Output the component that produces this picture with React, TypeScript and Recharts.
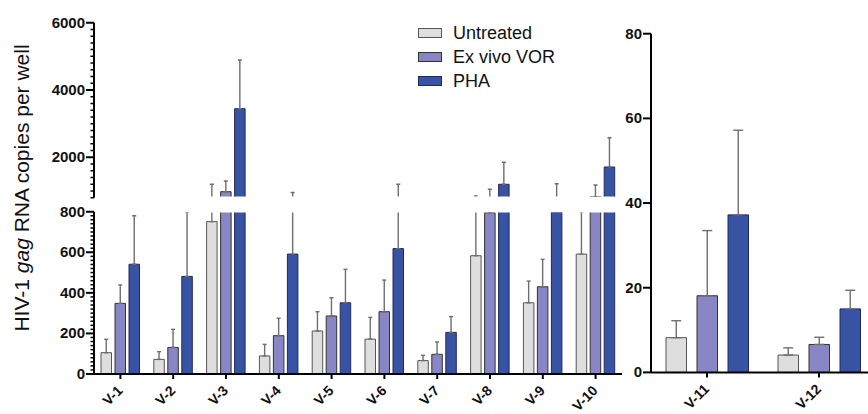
import React from "react";
import { BarChart, Bar, XAxis, YAxis, ErrorBar, Legend } from "recharts";

const leftCategories = ["V-1", "V-2", "V-3", "V-4", "V-5", "V-6", "V-7", "V-8", "V-9", "V-10"];
const rightCategories = ["V-11", "V-12"];

const untreatedLeft = [105, 72, 751, 89, 212, 172, 66, 583, 351, 591];
const untreatedLeftSd = [66, 38, 447, 57, 95, 107, 26, 272, 107, 209];
const vorLeft = [348, 131, 978, 189, 286, 307, 97, 795, 430, 830];
const vorLeftSd = [91, 89, 318, 86, 90, 156, 61, 255, 135, 347];
const phaLeft = [541, 481, 3445, 591, 351, 618, 205, 1198, 798, 1712];
const phaLeftSd = [239, 316, 1447, 364, 165, 580, 78, 654, 418, 871];

const untreatedRight = [8.2, 4.1];
const untreatedRightSd = [4.0, 1.7];
const vorRight = [18.1, 6.6];
const vorRightSd = [15.4, 1.7];
const phaRight = [37.2, 15.0];
const phaRightSd = [20.0, 4.4];

const upperMajorTicks = [2000, 4000, 6000];
const lowerMajorTicks = [0, 200, 400, 600, 800];
const rightTicks = [0, 20, 40, 60, 80];
// minor ticks every 200 (upper segment) and every 20 (lower segment)
const upperMinorTicks = Array.from({ length: 27 }, (_, i) => 800 + i * 200);
const lowerMinorTicks = Array.from({ length: 41 }, (_, i) => i * 20);

const series = [
  { key: "untreated", name: "Untreated", fill: "#dedede", stroke: "#555" },
  { key: "vor", name: "Ex vivo VOR", fill: "#8886c4", stroke: "#333" },
  { key: "pha", name: "PHA", fill: "#3852a4", stroke: "#1f2a5a" },
];

const leftData = leftCategories.map((name, i) => ({
  name,
  untreated: untreatedLeft[i],
  untreatedErr: [0, untreatedLeftSd[i]],
  vor: vorLeft[i],
  vorErr: [0, vorLeftSd[i]],
  pha: phaLeft[i],
  phaErr: [0, phaLeftSd[i]],
}));

const rightData = rightCategories.map((name, i) => ({
  name,
  untreated: untreatedRight[i],
  untreatedErr: [0, untreatedRightSd[i]],
  vor: vorRight[i],
  vorErr: [0, vorRightSd[i]],
  pha: phaRight[i],
  phaErr: [0, phaRightSd[i]],
}));

const FONT = "'Liberation Sans', Arial, sans-serif";

const makeYTick = (major: number[]) => (props: any) => {
  const { x, y, payload } = props;
  if (major.includes(payload.value)) {
    return (
      <g>
        <line x1={x - 8} x2={x} y1={y} y2={y} stroke="#000" strokeWidth={2} />
        <text x={x - 9} y={y} dy={5} textAnchor="end" fontSize={15} fontWeight="bold" fill="#111">
          {payload.value}
        </text>
      </g>
    );
  }
  return <line x1={x - 3.5} x2={x} y1={y} y2={y} stroke="#000" strokeWidth={1.5} />;
};

const XTick = (props: any) => {
  const { x, y, payload } = props;
  const tx = x + 3;
  const ty = y + 17.5;
  return (
    <g>
      <line x1={x} x2={x} y1={y} y2={y + 5} stroke="#000" strokeWidth={2} />
      <text x={tx} y={ty} transform={`rotate(-45 ${tx} ${ty})`} textAnchor="end" fontSize={14} fontWeight="bold" fill="#111">
        {payload.value}
      </text>
    </g>
  );
};

const YTitle = () => (
  <text x={28.5} y={188} transform="rotate(-90 28.5 188)" textAnchor="middle" fontSize={21} fill="#111">
    HIV-1 <tspan fontStyle="italic">gag</tspan> RNA copies per well
  </text>
);

const LegendContent = () => (
  <div style={{ fontFamily: FONT }}>
    {series.map((s) => (
      <div key={s.key} style={{ display: "flex", alignItems: "center", height: 24 }}>
        <span
          style={{
            display: "inline-block",
            width: 24,
            height: 10,
            boxSizing: "border-box",
            background: s.fill,
            border: `1.5px solid ${s.stroke}`,
          }}
        />
        <span style={{ marginLeft: 11, fontSize: 18, color: "#111" }}>{s.name}</span>
      </div>
    ))}
  </div>
);

const renderBars = (capWidth: number) =>
  series.map((s) => (
    <Bar
      key={s.key}
      dataKey={s.key}
      name={s.name}
      fill={s.fill}
      stroke={s.stroke}
      strokeWidth={1}
      isAnimationActive={false}
    >
      <ErrorBar dataKey={`${s.key}Err`} width={capWidth} stroke="#6e6e6e" strokeWidth={1.4} isAnimationActive={false} />
    </Bar>
  ));

export default function App() {
  return (
    <div
      style={{
        position: "fixed",
        left: 0,
        top: 0,
        width: 868,
        height: 414,
        overflow: "hidden",
        background: "#fff",
        fontFamily: FONT,
      }}
    >
      {/* upper segment of the broken axis */}
      <div
        style={{
          position: "absolute",
          left: 0,
          top: 0,
          clipPath: "polygon(0 0, 640px 0, 640px 196.6px, 95.5px 196.6px, 95.5px 414px, 0 414px)",
        }}
      >
        <BarChart
          width={640}
          height={414}
          data={leftData}
          margin={{ top: 22.7, right: 18, left: 34, bottom: 216.3 }}
          barSize={10.5}
          barGap={3.5}
        >
          <XAxis dataKey="name" hide />
          <YAxis
            width={60}
            domain={[800, 6000]}
            allowDataOverflow
            ticks={upperMinorTicks}
            interval={0}
            tickSize={0}
            tickMargin={0}
            tick={makeYTick(upperMajorTicks)}
            axisLine={{ stroke: "#000", strokeWidth: 2 }}
            label={{ content: () => <YTitle /> }}
          />
          <Legend
            layout="vertical"
            verticalAlign="middle"
            align="center"
            content={<LegendContent />}
            wrapperStyle={{ left: 418, top: 21, width: 200 }}
          />
          {renderBars(2)}
        </BarChart>
      </div>

      {/* lower segment */}
      <div
        style={{
          position: "absolute",
          left: 0,
          top: 200,
          clipPath: "polygon(0 0, 95.5px 0, 95.5px 12.4px, 640px 12.4px, 640px 214px, 0 214px)",
        }}
      >
        <BarChart
          width={640}
          height={214}
          data={leftData}
          margin={{ top: 11.7, right: 18, left: 34, bottom: 0 }}
          barSize={10.5}
          barGap={3.5}
        >
          <XAxis
            dataKey="name"
            height={40}
            tickSize={0}
            tickMargin={0}
            interval={0}
            tick={<XTick />}
            axisLine={{ stroke: "#000", strokeWidth: 2 }}
          />
          <YAxis
            width={60}
            domain={[0, 800]}
            allowDataOverflow
            ticks={lowerMinorTicks}
            interval={0}
            tickSize={0}
            tickMargin={0}
            tick={makeYTick(lowerMajorTicks)}
            axisLine={{ stroke: "#000", strokeWidth: 2 }}
          />
          {renderBars(2)}
        </BarChart>
      </div>

      {/* right panel */}
      <div style={{ position: "absolute", left: 590, top: 0 }}>
        <BarChart
          width={285}
          height={413}
          data={rightData}
          margin={{ top: 33.7, right: 0, left: 11, bottom: 0 }}
          barSize={20.5}
          barGap={10.5}
        >
          <XAxis
            dataKey="name"
            height={40.6}
            tickSize={0}
            tickMargin={0}
            interval={0}
            tick={<XTick />}
            axisLine={{ stroke: "#000", strokeWidth: 2 }}
          />
          <YAxis
            width={50}
            domain={[0, 80]}
            ticks={rightTicks}
            interval={0}
            tickSize={0}
            tickMargin={0}
            tick={makeYTick(rightTicks)}
            axisLine={{ stroke: "#000", strokeWidth: 2 }}
          />
          {renderBars(5)}
        </BarChart>
      </div>
    </div>
  );
}
